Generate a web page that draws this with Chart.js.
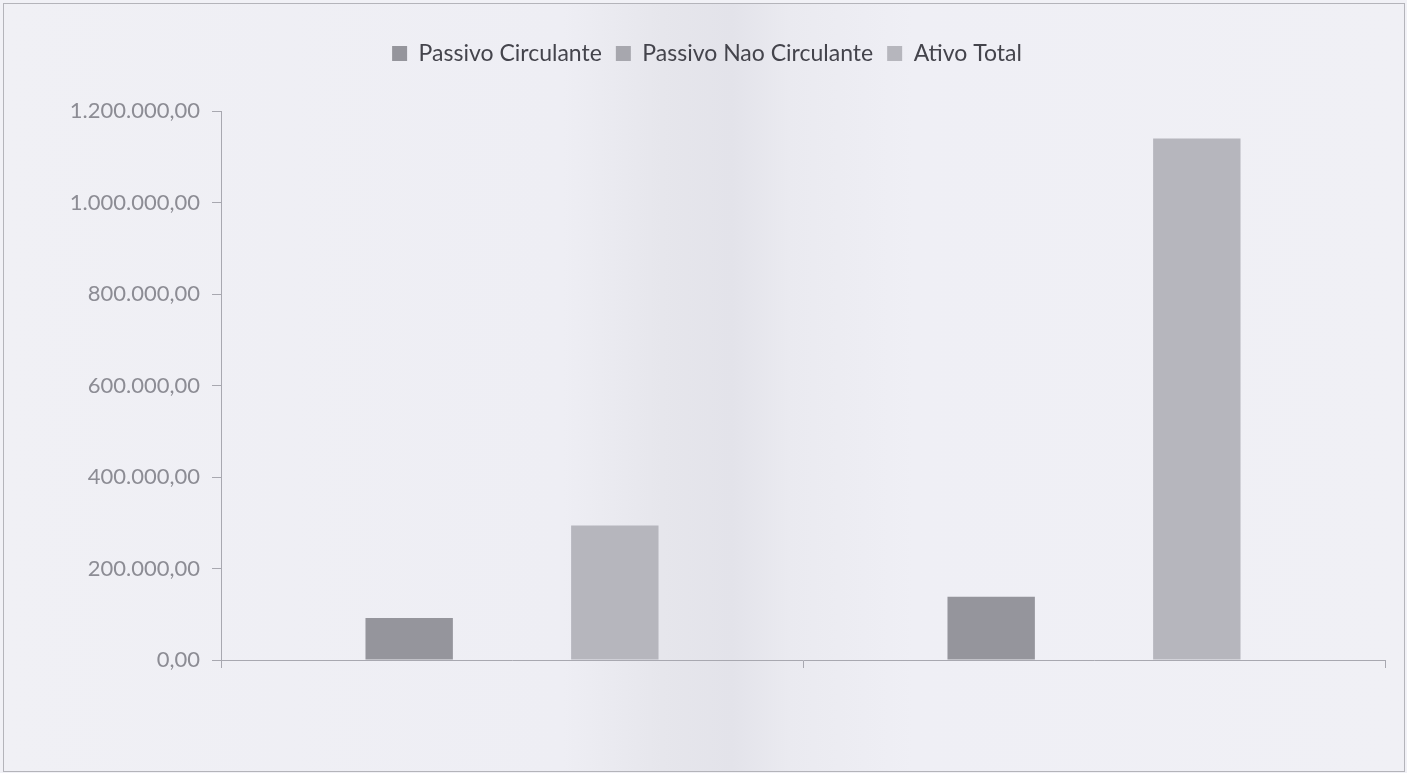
<!DOCTYPE html>
<html>
<head>
<meta charset="utf-8">
<script src="https://cdn.jsdelivr.net/npm/chart.js@4"></script>
<style>
    body {
        margin: 0;
        background: #f1f1f6;
    }
    #frame {
        position: absolute;
        left: 3px;
        top: 3px;
        width: 1400px;
        height: 767px;
        border: 1px solid #b4b4ba;
        background: linear-gradient(to right, #f0f0f5 0%, #eeeef4 40%, #e6e6ec 47%, #e3e3ea 52%, #eaeaf0 56%, #efeff5 65%, #f0f0f5 100%);
    }
</style>
</head>
<body>
<div id="frame"><canvas id="balancoChart" width="1400" height="767"></canvas></div>
<script>
// Valores
const categories = ['Exercício anterior', 'Exercício atual'];
const passivoCirculante = [92000, 138000];
const passivoNaoCirculante = [0, 0];
const ativoTotal = [294000, 1140000];
const yTicks = [0, 200000, 400000, 600000, 800000, 1000000, 1200000];

function formatBR(value) {
    const parts = Number(value).toFixed(2).split('.');
    const inteiro = parts[0].replace(/\B(?=(\d{3})+(?!\d))/g, '.');
    return inteiro + ',' + parts[1];
}

// espaço extra entre a legenda e a área do gráfico
const legendGap = {
    id: 'legendGap',
    beforeInit(chart) {
        const fit = chart.legend.fit;
        chart.legend.fit = function () {
            fit.bind(chart.legend)();
            this.height += 36;
        };
    }
};

Chart.defaults.font.family = 'Lato, "Open Sans", sans-serif';

new Chart(document.getElementById('balancoChart'), {
    type: 'bar',
    data: {
        labels: categories,
        datasets: [{
            label: 'Passivo Circulante',
            data: passivoCirculante,
            backgroundColor: '#95959c'
        }, {
            label: 'Passivo Nao Circulante',
            data: passivoNaoCirculante,
            backgroundColor: '#a7a7ae'
        }, {
            label: 'Ativo Total',
            data: ativoTotal,
            backgroundColor: '#b6b6bd'
        }]
    },
    options: {
        responsive: false,
        animation: false,
        categoryPercentage: 0.53,
        barPercentage: 0.85,
        layout: {
            padding: { top: 24, right: 19, bottom: 103, left: 25 }
        },
        plugins: {
            legend: {
                position: 'top',
                labels: {
                    color: '#44444c',
                    font: { size: 23 },
                    boxWidth: 15,
                    boxHeight: 15,
                    padding: 14
                }
            },
            tooltip: { enabled: false }
        },
        scales: {
            x: {
                ticks: { display: false },
                grid: {
                    drawOnChartArea: false,
                    drawTicks: true,
                    tickLength: 8,
                    color: '#a8a8b0'
                },
                border: { color: '#a8a8b0' }
            },
            y: {
                min: 0,
                max: 1200000,
                afterBuildTicks(scale) {
                    scale.ticks = yTicks.map(v => ({ value: v }));
                },
                afterFit(scale) {
                    scale.width = 192;
                },
                ticks: {
                    color: '#8c8c94',
                    font: { size: 22 },
                    padding: 12,
                    callback: value => formatBR(value)
                },
                grid: {
                    drawOnChartArea: false,
                    tickLength: 9,
                    color: '#a8a8b0'
                },
                border: { color: '#a8a8b0' }
            }
        }
    },
    plugins: [legendGap]
});
</script>
</body>
</html>
